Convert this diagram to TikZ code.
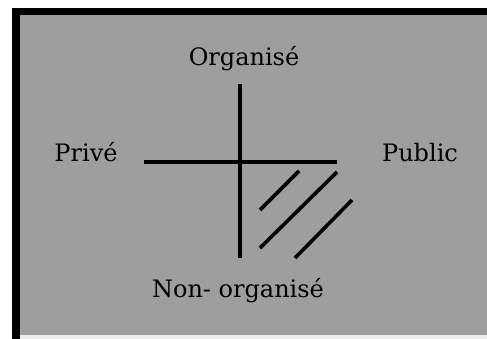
\documentclass[tikz,border=0pt]{standalone}
\usepackage{fontspec}
\setmainfont{DejaVu Serif}
\usepackage{tikz}
\usetikzlibrary{positioning}
\usepackage{xcolor}
\definecolor{panel}{gray}{0.62}

\begin{document}
\begin{tikzpicture}[x=1pt, y=-1pt,
  axis/.style={line width=3.6pt, black},
  hatch/.style={line width=3.6pt, black},
  label/.style={font=\fontsize{24}{28}\selectfont, anchor=base, inner sep=0pt}
]
\useasboundingbox (0,0) rectangle (487,339);

% Frame
\fill[white] (0,0) rectangle (487,339);
\fill[black] (12,8) rectangle (487,339);
\fill[panel] (20,15) rectangle (487,335);
\fill[gray!15] (20,335) rectangle (487,339);

% Axes
\coordinate (top) at (240,84);
\coordinate (bottom) at (240,258);
\coordinate (left) at (144,162);
\coordinate (right) at (337,162);
\draw[axis] (top) -- (bottom);
\draw[axis] (left) -- (right);

% Hatching
\coordinate (h1a) at (260,210);
\coordinate (h1b) at (299,171);
\coordinate (h2a) at (260,248);
\coordinate (h2b) at (337,172);
\coordinate (h3a) at (295,258);
\coordinate (h3b) at (352,200);
\draw[hatch] (h1a) -- (h1b);
\draw[hatch] (h2a) -- (h2b);
\draw[hatch] (h3a) -- (h3b);

% Labels
\node[label] (org) at (244,66) {Organisé};
\node[label] (prive) at (86,162) {Privé};
\node[label] (public) at (420,162) {Public};
\node[label] (nonorg) at (238,297) {Non- organisé};

\end{tikzpicture}
\end{document}
